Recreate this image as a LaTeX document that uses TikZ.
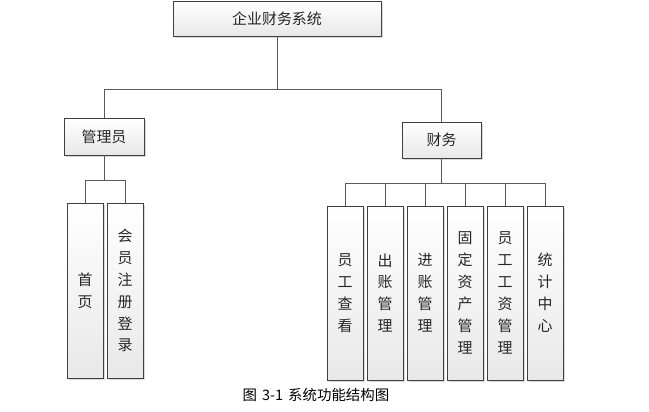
\documentclass[tikz,border=0pt]{standalone}
\usepackage{fontspec}
\setmainfont{Noto Sans CJK SC}
\usepackage{xcolor}
\usepackage{tikz}
\usetikzlibrary{positioning,calc,shadows}
\definecolor{boxline}{HTML}{404040}
\definecolor{wireline}{HTML}{5A5A5A}
\definecolor{boxtop}{HTML}{FFFFFF}
\definecolor{boxbottom}{HTML}{E8E8E8}
\definecolor{ink}{HTML}{262626}
\tikzset{
    every picture/.style={line cap=butt,line join=miter},
    funcbox/.style={draw=boxline,line width=1pt,top color=boxtop,bottom color=boxbottom,
      drop shadow={shadow xshift=2bp,shadow yshift=-2bp,fill=black!25,opacity=0.6},
      inner sep=0pt,outer sep=0pt,text=ink,align=center,
      font=\fontsize{15}{22}\selectfont},
    vbox/.style={funcbox,minimum width=36bp},
    wire/.style={draw=wireline,line width=1pt}
}

\begin{document}
\begin{tikzpicture}[x=1bp,y=-1bp]
  \useasboundingbox (0,0) rectangle (649,411);
  % top level
  \node[funcbox,minimum width=208bp,minimum height=35bp] (sys) at (277,18.5) {企业财务系统};
  \node[funcbox,minimum width=80bp,minimum height=37bp] (admin) at (104,136.5) {管理员};
  \node[funcbox,minimum width=79bp,minimum height=36bp] (fin) at (441.5,140) {财务};
  \draw[wire] (sys.south) -- ++(0,53) -| (admin.north);
  \draw[wire] (sys.south) -- ++(0,53) -| (fin.north);
  % admin side
  \foreach \i/\txt in {0/首\\页,1/会\\员\\注\\册\\登\\录} {
    \node[vbox,minimum height=175bp] (a\i) at ({85+40*\i},290.5) {\txt};
    \draw[wire] (admin.south) -- ++(0,25) -| (a\i.north);
  }
  % finance side
  \foreach \i/\txt in {0/员\\工\\查\\看,1/出\\账\\管\\理,2/进\\账\\管\\理,
      3/固\\定\\资\\产\\管\\理,4/员\\工\\工\\资\\管\\理,5/统\\计\\中\\心} {
    \node[vbox,minimum height=174bp] (f\i) at ({345+40*\i},293) {\txt};
    \draw[wire] (fin.south) -- ++(0,25) -| (f\i.north);
  }
  \node[font=\fontsize{14.5}{16}\selectfont,text=black,inner sep=0pt] (cap) at (316,395)
    {图\hspace{5bp}3-1\hspace{5bp}系统功能结构图};
\end{tikzpicture}
\end{document}
